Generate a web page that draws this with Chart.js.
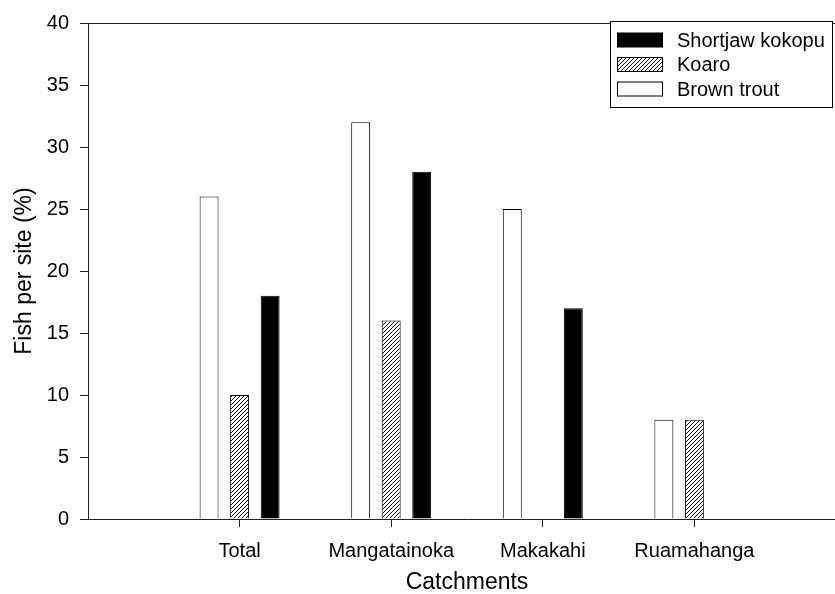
<!DOCTYPE html>
<html><head><meta charset="utf-8">
<script src="https://cdn.jsdelivr.net/npm/chart.js@4"></script>
<style>html,body{margin:0;padding:0;overflow:hidden;background:#fff;width:835px;height:594px}canvas{display:block}</style>
</head><body>
<canvas id="c" width="850" height="594" style="width:850px;height:594px"></canvas>
<script>
const categories = ['Total', 'Mangatainoka', 'Makakahi', 'Ruamahanga'];
const brownTrout = [26, 32, 25, 8];
const koaro = [10, 16, 0, 8];
const shortjawKokopu = [18, 28, 17, 0];
const seriesNames = ['Brown trout', 'Koaro', 'Shortjaw kokopu'];
const yTickValues = [0, 5, 10, 15, 20, 25, 30, 35, 40];

const FONT = "'Liberation Sans', Arial, sans-serif";

function hatchPattern() {
  const p = document.createElement('canvas');
  p.width = 4; p.height = 4;
  const g = p.getContext('2d');
  g.fillStyle = '#fff'; g.fillRect(0, 0, 4, 4);
  g.fillStyle = '#111';
  for (let i = 0; i < 4; i++) g.fillRect(i, 3 - i, 1, 1);
  return g.createPattern(p, 'repeat');
}
const ctx = document.getElementById('c').getContext('2d');
const hatch = hatchPattern();

const toPoints = arr => arr.map((v, i) => ({x: i + 1, y: v}));

const frameAndLegend = {
  id: 'frameAndLegend',
  afterDraw(chart) {
    const c = chart.ctx, a = chart.chartArea;
    c.save();
    c.strokeStyle = '#222'; c.lineWidth = 1;
    c.beginPath();
    c.moveTo(a.left, a.top + 0.5); c.lineTo(a.right, a.top + 0.5);
    c.stroke();
    const bx = 610.5, by = 21.5, bw = 222, bh = 86;
    c.fillStyle = '#fff'; c.fillRect(bx, by, bw, bh);
    c.strokeStyle = '#000'; c.strokeRect(bx, by, bw, bh);
    const ds = chart.data.datasets.slice().reverse();
    const rows = [40, 64.5, 89];
    c.font = '20px ' + FONT;
    c.textBaseline = 'middle';
    c.textAlign = 'left';
    ds.forEach((d, i) => {
      const y = rows[i];
      c.fillStyle = d.backgroundColor;
      c.fillRect(617.5, y - 7, 45, 14);
      c.strokeStyle = '#000';
      c.strokeRect(617.5, y - 7, 45, 14);
      c.fillStyle = '#000';
      c.fillText(d.label, 677, y + 1);
    });
    c.restore();
  }
};

new Chart(ctx, {
  type: 'bar',
  data: {
    datasets: [
      {label: seriesNames[0], data: toPoints(brownTrout), backgroundColor: '#ffffff', borderColor: '#000', borderWidth: 1},
      {label: seriesNames[1], data: toPoints(koaro), backgroundColor: hatch, borderColor: '#000', borderWidth: 1},
      {label: seriesNames[2], data: toPoints(shortjawKokopu), backgroundColor: '#000000', borderColor: '#000', borderWidth: 1}
    ]
  },
  options: {
    responsive: false,
    animation: false,
    devicePixelRatio: 1,
    categoryPercentage: 0.604,
    barPercentage: 0.62,
    layout: {padding: {top: 18, right: 4, left: 0, bottom: 0}},
    plugins: {legend: {display: false}, tooltip: {enabled: false}},
    scales: {
      x: {
        type: 'linear', min: 0, max: 5, offset: false,
        afterBuildTicks: s => { s.ticks = categories.map((c, i) => ({value: i + 1})); },
        afterFit: s => { s.height = 75; },
        grid: {offset: false, drawOnChartArea: false, drawTicks: true, tickLength: 8, tickColor: '#222'},
        border: {color: '#222', width: 1},
        ticks: {
          autoSkip: false, maxRotation: 0, padding: 12, color: '#000',
          font: {family: FONT, size: 20},
          callback: v => categories[v - 1] || ''
        },
        title: {display: true, text: 'Catchments', color: '#000', font: {family: FONT, size: 23, lineHeight: 1.0}, padding: {top: 0, bottom: 0}}
      },
      y: {
        min: 0, max: 40,
        afterBuildTicks: s => { s.ticks = yTickValues.map(v => ({value: v})); },
        afterFit: s => { s.width = 88; },
        grid: {drawOnChartArea: false, drawTicks: true, tickLength: 8, tickColor: '#222'},
        border: {color: '#222', width: 1},
        ticks: {padding: 11, color: '#000', font: {family: FONT, size: 20}},
        title: {display: true, text: 'Fish per site (%)', color: '#000', font: {family: FONT, size: 23}, padding: {top: 11, bottom: 0}}
      }
    }
  },
  plugins: [frameAndLegend]
});
</script>
</body></html>
